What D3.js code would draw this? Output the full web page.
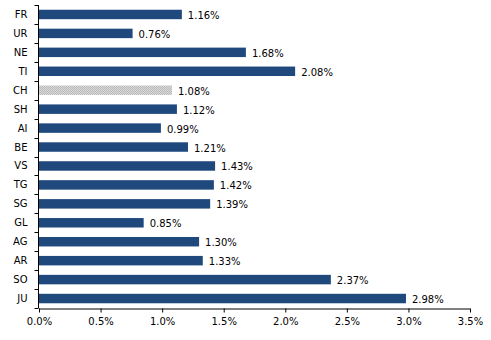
<!DOCTYPE html>
<html><head><meta charset="utf-8">
<script src="https://cdn.jsdelivr.net/npm/d3@7"></script>
<style>body{margin:0;background:#fff}svg{display:block}text{font-family:"DejaVu Sans",Verdana,sans-serif;font-size:10px;fill:#000}</style>
</head><body>
<script>
const categories = ["FR","UR","NE","TI","CH","SH","AI","BE","VS","TG","SG","GL","AG","AR","SO","JU"];
const values = [1.16,0.76,1.68,2.08,1.08,1.12,0.99,1.21,1.43,1.42,1.39,0.85,1.30,1.33,2.37,2.98];
const highlight = ["CH"];
const xTicks = [0,0.5,1.0,1.5,2.0,2.5,3.0,3.5];

const W=491,H=340, m={l:39,t:5,r:21,b:32};
const svg=d3.select("body").append("svg").attr("width",W).attr("height",H);
const defs=svg.append("defs");
const pat=defs.append("pattern").attr("id","gray").attr("width",2).attr("height",2).attr("patternUnits","userSpaceOnUse");
pat.append("rect").attr("width",2).attr("height",2).attr("fill","#dadada");
pat.append("rect").attr("width",1).attr("height",1).attr("fill","#bababa");
pat.append("rect").attr("x",1).attr("y",1).attr("width",1).attr("height",1).attr("fill","#bababa");

const x=d3.scaleLinear().domain([0,3.5]).range([m.l,W-m.r]);
const y=d3.scaleBand().domain(categories).range([m.t,H-m.b]).paddingInner(0.5).paddingOuter(0.25);
const data=categories.map((c,i)=>({c,v:values[i]}));

svg.selectAll("rect.bar").data(data).enter().append("rect").attr("class","bar")
  .attr("x",x(0)).attr("y",d=>y(d.c)).attr("width",d=>x(d.v)-x(0)).attr("height",y.bandwidth())
  .attr("fill",d=>highlight.includes(d.c)?"url(#gray)":"#1f497d");

svg.selectAll("text.val").data(data).enter().append("text").attr("class","val")
  .attr("x",d=>x(d.v)+6).attr("y",d=>y(d.c)+y.bandwidth()/2+1).attr("dy","0.35em")
  .text(d=>d.v.toFixed(2)+"%");

// x axis
const xa=svg.append("g").attr("transform",`translate(0,${H-m.b+0.5})`)
  .call(d3.axisBottom(x).tickValues(xTicks).tickFormat(d=>d.toFixed(1)+"%").tickSize(4).tickPadding(5));
xa.selectAll("path,line").attr("stroke","#000");
xa.select(".domain").attr("d",`M${x(0)},0.5H${x(3.5)}`);

// y axis
const step=y.step();
const ya=svg.append("g").attr("transform",`translate(${m.l-0.5},0)`);
ya.append("line").attr("x1",0).attr("x2",0).attr("y1",m.t).attr("y2",H-m.b).attr("stroke","#000");
const bounds=d3.range(categories.length+1).map(i=>m.t+i*step);
ya.selectAll("line.t").data(bounds).enter().append("line").attr("class","t")
  .attr("x1",-4).attr("x2",0).attr("y1",d=>Math.round(d)+0.5).attr("y2",d=>Math.round(d)+0.5).attr("stroke","#000");
ya.selectAll("text").data(categories).enter().append("text")
  .attr("x",-11).attr("y",d=>y(d)+y.bandwidth()/2).attr("dy","0.35em").attr("text-anchor","end").text(d=>d);
</script>
</body></html>
